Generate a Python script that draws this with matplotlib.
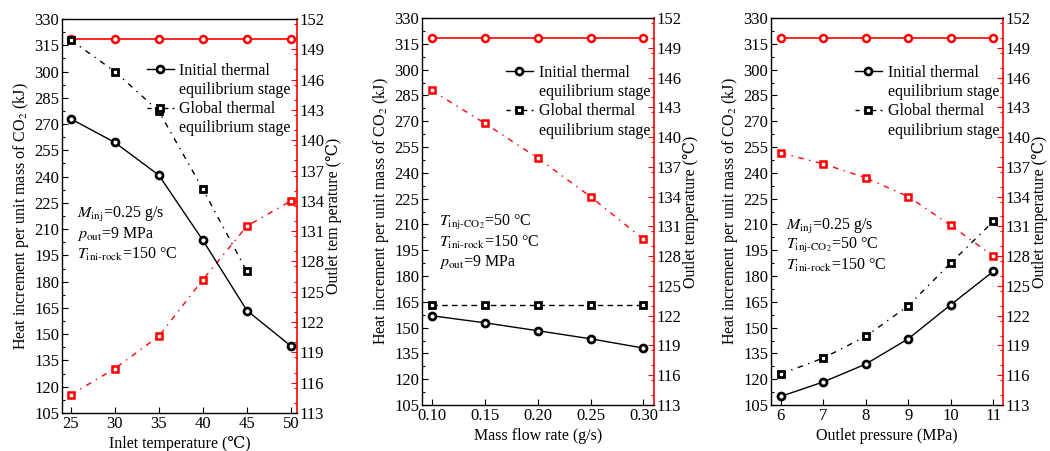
import matplotlib
matplotlib.use("Agg")
import matplotlib.pyplot as plt
from matplotlib.lines import Line2D
from matplotlib.ticker import MultipleLocator

plt.rcParams['font.family'] = ['Liberation Serif', 'DejaVu Serif', 'DejaVu Sans']
plt.rcParams['mathtext.fontset'] = 'stix'

# ---------------- data ----------------
# Panel 1: inlet temperature
inlet_temp = [25, 30, 35, 40, 45, 50]
p1_initial = [273, 259.5, 240.8, 203.6, 163.5, 143.2]
p1_global_x = [25, 30, 35, 40, 45]
p1_global = [318, 300, 277.3, 232.8, 185.8]
p1_outlet_init = [150, 150, 150, 150, 150, 150]
p1_outlet_glob = [114.8, 117.4, 120.6, 126.2, 131.5, 134.0]

# Panel 2: mass flow rate
flow_rate = [0.10, 0.15, 0.20, 0.25, 0.30]
p2_initial = [156.9, 152.8, 148.2, 143.5, 138.1]
p2_global = [163, 163, 163, 163, 163]
p2_outlet_init = [150, 150, 150, 150, 150]
p2_outlet_glob = [144.7, 141.4, 137.9, 134.0, 129.7]

# Panel 3: outlet pressure
pressure = [6, 7, 8, 9, 10, 11]
p3_initial = [110, 118.4, 128.8, 143.5, 163.3, 182.7]
p3_global = [123, 132.3, 144.9, 162.7, 187.6, 211.7]
p3_outlet_init = [150, 150, 150, 150, 150, 150]
p3_outlet_glob = [138.4, 137.3, 135.9, 134.0, 131.1, 128.0]

left_ticks = list(range(105, 331, 15))
right_ticks = list(range(113, 153, 3))

panels = [
    dict(pos=[0.059, 0.0843, 0.224, 0.8736], x=inlet_temp, init=p1_initial,
         gx=p1_global_x, glob=p1_global, oi=p1_outlet_init, og=p1_outlet_glob,
         xlim=(24.0, 50.7), xticks=inlet_temp, xticklabels=[str(v) for v in inlet_temp],
         xlabel='Inlet temperature (℃)', rlabel='Outlet tem perature (℃)',
         gls=(0, (4, 4, 1, 4)),
         notes=[r'$M_{\mathrm{inj}}$=0.25 g/s', r'$p_{\mathrm{out}}$=9 MPa',
                r'$T_{\text{ini-rock}}$=150 °C'],
         note_xy=(0.065, 0.505), leg_x=1.0, leg_y=0.905),
    dict(pos=[0.4019, 0.102, 0.221, 0.858], x=flow_rate, init=p2_initial,
         gx=flow_rate, glob=p2_global, oi=p2_outlet_init, og=p2_outlet_glob,
         xlim=(0.0908, 0.310), xticks=flow_rate,
         xticklabels=['%.2f' % v for v in flow_rate],
         xlabel='Mass flow rate (g/s)', rlabel='Outlet temperature (℃)',
         gls=(0, (4, 3)),
         notes=[r'$T_{\text{inj-CO}_2}$=50 °C', r'$T_{\text{ini-rock}}$=150 °C',
                r'$p_{\mathrm{out}}$=9 MPa'],
         note_xy=(0.075, 0.472), leg_x=1.01, leg_y=0.895),
    dict(pos=[0.7343, 0.102, 0.221, 0.858], x=pressure, init=p3_initial,
         gx=pressure, glob=p3_global, oi=p3_outlet_init, og=p3_outlet_glob,
         xlim=(5.77, 11.23), xticks=pressure, xticklabels=[str(v) for v in pressure],
         xlabel='Outlet pressure (MPa)', rlabel='Outlet temperature (℃)',
         gls=(0, (4, 4, 1, 4)),
         notes=[r'$M_{\mathrm{inj}}$=0.25 g/s', r'$T_{\text{inj-CO}_2}$=50 °C',
                r'$T_{\text{ini-rock}}$=150 °C'],
         note_xy=(0.065, 0.462), leg_x=1.01, leg_y=0.895),
]

fig = plt.figure(figsize=(10.5, 4.51), dpi=100)

FS_TICK = 12
FS_LAB = 11.5
FS_LEG = 11.5
FS_NOTE = 11.5

mk_black = dict(markersize=5, markerfacecolor='white', markeredgecolor='black',
                markeredgewidth=2.0)
mk_red = dict(markersize=5, markerfacecolor='white', markeredgecolor='red',
              markeredgewidth=1.8)

for p in panels:
    ax = fig.add_axes(p['pos'])
    ax2 = ax.twinx()
    ax.set_zorder(ax2.get_zorder() + 1)
    ax.patch.set_visible(False)

    ax.plot(p['x'], p['init'], '-', color='black', lw=1.0, marker='o', **mk_black)
    ax.plot(p['gx'], p['glob'], linestyle=p['gls'], color='black', lw=1.0,
            marker='s', **mk_black)
    ax2.plot(p['x'], p['oi'], '-', color='red', lw=1.2, marker='o', **mk_red)
    ax2.plot(p['x'], p['og'], linestyle=(0, (4, 4, 1, 4)), color='red', lw=1.0,
             marker='s', **mk_red)

    ax.set_xlim(*p['xlim'])
    ax.set_ylim(105, 330)
    ax.set_yticks(left_ticks)
    ax.yaxis.set_minor_locator(MultipleLocator(7.5))
    ax.set_xticks(p['xticks'])
    ax.set_xticklabels(p['xticklabels'])
    ax2.set_ylim(113, 152)
    ax2.set_yticks(right_ticks)
    ax2.yaxis.set_minor_locator(MultipleLocator(1.5))

    ax.tick_params(axis='both', which='both', direction='in', labelsize=FS_TICK,
                   top=False, right=False, pad=2)
    ax.tick_params(which='major', length=4, width=0.8)
    ax.tick_params(which='minor', length=2, width=0.8)
    ax2.tick_params(axis='y', which='both', direction='in', colors='red',
                    labelcolor='black', labelsize=FS_TICK, pad=1.5)
    ax2.tick_params(which='major', length=4, width=0.8)
    ax2.tick_params(which='minor', length=2, width=0.8)

    for s in ['left', 'bottom', 'top']:
        ax.spines[s].set_linewidth(1.0)
        ax.spines[s].set_color('black')
    ax.spines['right'].set_visible(False)
    ax2.spines['right'].set_color('red')
    ax2.spines['right'].set_linewidth(1.2)
    for s in ['left', 'bottom', 'top']:
        ax2.spines[s].set_visible(False)

    ax.set_xlabel(p['xlabel'], fontsize=FS_LAB, labelpad=3)
    ax.set_ylabel('Heat increment per unit mass of CO$_2$ (kJ)', fontsize=FS_LAB,
                  labelpad=2)
    ax2.set_ylabel(p['rlabel'], fontsize=FS_LAB, labelpad=1)

    h1 = Line2D([], [], color='black', lw=1.0, marker='o', **mk_black)
    h2 = Line2D([], [], color='black', lw=1.0, linestyle=(0, (3, 3)), marker='s',
                **mk_black)
    hn = Line2D([], [], linestyle='none')
    ax.legend([h1, hn, h2, hn],
              ['Initial thermal', 'equilibrium stage',
               'Global thermal', 'equilibrium stage'],
              loc='upper right', bbox_to_anchor=(p['leg_x'], p['leg_y']),
              frameon=False, fontsize=FS_LEG, handlelength=1.7,
              handletextpad=0.35, labelspacing=0.2, borderaxespad=0.0,
              numpoints=1)

    nx, ny = p['note_xy']
    for i, t in enumerate(p['notes']):
        ax.text(nx, ny - i * 0.051, t, transform=ax.transAxes, fontsize=FS_NOTE,
                va='center', ha='left')

fig.savefig('out.png', dpi=100)
